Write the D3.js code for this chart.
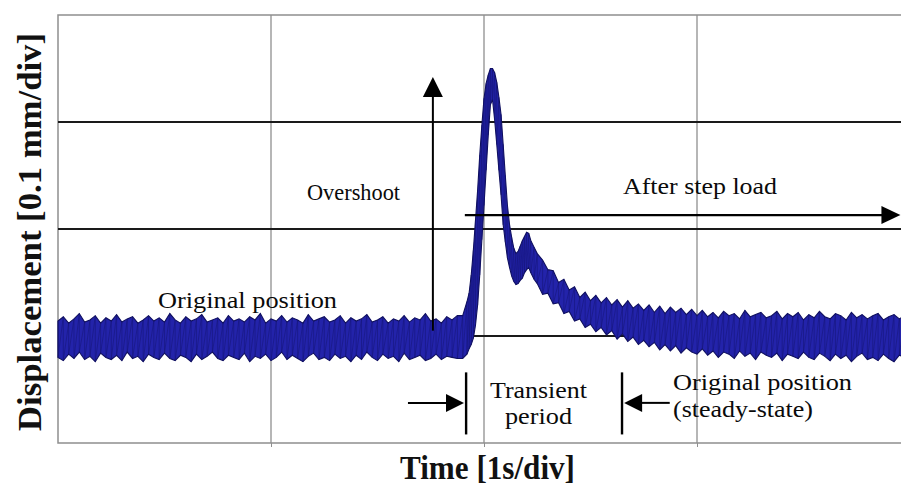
<!DOCTYPE html>
<html>
<head>
<meta charset="utf-8">
<script src="https://cdn.jsdelivr.net/npm/d3@7"></script>
<style>
  body { margin: 0; background: #fff; }
  svg { display: block; }
</style>
</head>
<body>
<svg id="chart" width="901" height="492"></svg>
<script>
// time in divisions (1 s/div), displacement in divisions (0.1 mm/div)
// the trace is kept as an envelope: upper and lower edge of the noisy band

// before the step load
const baseT = [0, 0.025, 0.05, 0.075, 0.1, 0.125, 0.15, 0.175, 0.2, 0.225, 0.25, 0.275, 0.3, 0.325, 0.35, 0.375, 0.4, 0.425, 0.45, 0.475,
  0.5, 0.525, 0.55, 0.575, 0.6, 0.625, 0.65, 0.675, 0.7, 0.725, 0.75, 0.775, 0.8, 0.825, 0.85, 0.875, 0.9, 0.925, 0.95, 0.975,
  1, 1.025, 1.05, 1.075, 1.1, 1.125, 1.15, 1.175, 1.2, 1.225, 1.25, 1.275, 1.3, 1.325, 1.35, 1.375, 1.4, 1.425, 1.45, 1.475,
  1.5, 1.525, 1.55, 1.575, 1.6, 1.625, 1.65, 1.675, 1.7, 1.725, 1.75, 1.775, 1.8, 1.825, 1.85, 1.875];
const baseHi = [1.14, 1.18, 1.12, 1.16, 1.21, 1.13, 1.15, 1.19, 1.12, 1.17, 1.14, 1.20, 1.13, 1.16, 1.18, 1.12, 1.15, 1.19, 1.14, 1.17,
  1.13, 1.21, 1.15, 1.12, 1.18, 1.14, 1.16, 1.20, 1.13, 1.15, 1.17, 1.12, 1.19, 1.14, 1.16, 1.13, 1.18, 1.15, 1.21, 1.12,
  1.16, 1.14, 1.19, 1.13, 1.17, 1.15, 1.12, 1.20, 1.14, 1.16, 1.18, 1.13, 1.15, 1.19, 1.12, 1.17, 1.14, 1.16, 1.20, 1.13,
  1.15, 1.18, 1.12, 1.16, 1.14, 1.19, 1.13, 1.17, 1.15, 1.21, 1.14, 1.16, 1.12, 1.18, 1.15, 1.19];
const baseLo = [0.80, 0.77, 0.83, 0.79, 0.85, 0.78, 0.81, 0.76, 0.84, 0.80, 0.78, 0.82, 0.77, 0.85, 0.79, 0.81, 0.76, 0.83, 0.80, 0.78,
  0.84, 0.79, 0.77, 0.82, 0.80, 0.76, 0.83, 0.78, 0.81, 0.85, 0.79, 0.77, 0.82, 0.80, 0.78, 0.84, 0.76, 0.81, 0.79, 0.83,
  0.77, 0.80, 0.85, 0.78, 0.82, 0.79, 0.76, 0.81, 0.84, 0.78, 0.80, 0.77, 0.83, 0.79, 0.81, 0.76, 0.82, 0.78, 0.85, 0.80,
  0.77, 0.83, 0.79, 0.81, 0.76, 0.84, 0.78, 0.80, 0.82, 0.77, 0.79, 0.83, 0.78, 0.81, 0.80, 0.79];

// overshoot and second bump
const stepT = [1.90, 1.92, 1.93, 1.94, 1.95, 1.96, 1.97, 1.98, 1.99, 2.00, 2.01, 2.02, 2.03, 2.04, 2.05, 2.06, 2.07,
  2.08, 2.09, 2.10, 2.11, 2.12, 2.13, 2.14, 2.15, 2.16, 2.17, 2.18, 2.19, 2.20, 2.21, 2.22, 2.235, 2.25];
const stepHi = [1.19, 1.32, 1.40, 1.57, 1.80, 2.08, 2.36, 2.69, 2.97, 3.22, 3.36, 3.44, 3.50, 3.50, 3.46, 3.37, 3.23,
  3.07, 2.79, 2.50, 2.22, 2.04, 1.92, 1.82, 1.77, 1.79, 1.84, 1.89, 1.93, 1.97, 1.96, 1.89, 1.83, 1.77];
const stepLo = [0.79, 0.83, 0.88, 0.92, 0.98, 1.10, 1.29, 1.57, 1.90, 2.22, 2.55, 2.88, 3.16, 3.21, 3.02, 2.79, 2.55,
  2.32, 2.04, 1.88, 1.73, 1.64, 1.56, 1.51, 1.48, 1.49, 1.52, 1.54, 1.59, 1.62, 1.64, 1.59, 1.53, 1.49];

// decay back to steady state
const tailT = [2.275, 2.3, 2.325, 2.35, 2.375, 2.4, 2.425, 2.45, 2.475, 2.5, 2.525, 2.55, 2.575, 2.6, 2.625, 2.65, 2.675, 2.7, 2.725, 2.75,
  2.775, 2.8, 2.825, 2.85, 2.875, 2.9, 2.925, 2.95, 2.975, 3, 3.025, 3.05, 3.075, 3.1, 3.125, 3.15, 3.175, 3.2, 3.225, 3.25,
  3.275, 3.3, 3.325, 3.35, 3.375, 3.4, 3.425, 3.45, 3.475, 3.5, 3.525, 3.55, 3.575, 3.6, 3.625, 3.65, 3.675, 3.7, 3.725, 3.75,
  3.775, 3.8, 3.825, 3.85, 3.875, 3.9, 3.925, 3.95, 3.975];
const tailHi = [1.71, 1.62, 1.61, 1.50, 1.53, 1.43, 1.46, 1.36, 1.41, 1.33, 1.38, 1.31, 1.36, 1.29, 1.34, 1.27, 1.33, 1.26, 1.30, 1.24,
  1.29, 1.22, 1.28, 1.21, 1.27, 1.22, 1.26, 1.20, 1.25, 1.19, 1.24, 1.18, 1.22, 1.17, 1.23, 1.19, 1.21, 1.16, 1.24, 1.18,
  1.20, 1.22, 1.17, 1.19, 1.23, 1.16, 1.21, 1.18, 1.22, 1.15, 1.20, 1.17, 1.23, 1.18, 1.16, 1.21, 1.19, 1.15, 1.22, 1.17,
  1.20, 1.16, 1.19, 1.21, 1.15, 1.18, 1.20, 1.16, 1.19];
const tailLo = [1.39, 1.40, 1.30, 1.31, 1.21, 1.23, 1.14, 1.16, 1.08, 1.11, 1.04, 1.08, 1.01, 1.05, 0.97, 1.02, 0.95, 0.99, 0.92, 0.96,
  0.90, 0.94, 0.87, 0.92, 0.86, 0.91, 0.84, 0.89, 0.85, 0.83, 0.88, 0.82, 0.86, 0.80, 0.85, 0.83, 0.79, 0.86, 0.81, 0.84,
  0.78, 0.85, 0.82, 0.80, 0.84, 0.77, 0.83, 0.81, 0.79, 0.85, 0.80, 0.78, 0.84, 0.81, 0.77, 0.83, 0.79, 0.82, 0.76, 0.81,
  0.84, 0.78, 0.80, 0.77, 0.83, 0.79, 0.76, 0.82, 0.80];

const gridT = [1, 2, 3];
const gridV = [1, 2, 3];

const svg = d3.select('#chart');
const x = d3.scaleLinear().domain([0, 4]).range([58, 910]);
const y = d3.scaleLinear().domain([0, 4]).range([443, 15]);

const toRows = (ts, hi, lo) => ts.map((t, i) => ({ t, hi: hi[i], lo: lo[i] }));
const trace = [
  ...toRows(baseT, baseHi, baseLo),
  ...toRows(stepT, stepHi, stepLo),
  ...toRows(tailT, tailHi, tailLo),
];

// frame and grid
const grid = svg.append('g');
grid.selectAll('.vgrid')
  .data(gridT)
  .join('line')
  .attr('x1', (d) => x(d)).attr('x2', (d) => x(d))
  .attr('y1', y(4)).attr('y2', y(0))
  .attr('stroke', '#8f8f8f').attr('stroke-width', 1.3);

grid.append('path')
  .attr('d', `M${x(4) + 5},${y(4)}H${x(0)}V${y(0)}H${x(4) + 5}`)
  .attr('fill', 'none')
  .attr('stroke', '#8f8f8f')
  .attr('stroke-width', 1.5);

grid.selectAll('.hgrid')
  .data(gridV)
  .join('line')
  .attr('x1', x(0)).attr('x2', x(4) + 5)
  .attr('y1', (d) => y(d)).attr('y2', (d) => y(d))
  .attr('stroke', '#1a1a1a').attr('stroke-width', 1.8);

// small tick marks under the bottom edge
svg.append('g')
  .attr('transform', `translate(0,${y(0)})`)
  .call(d3.axisBottom(x).tickValues(gridT).tickSize(4).tickFormat(''))
  .call((g) => g.select('.domain').remove())
  .call((g) => g.selectAll('.tick line').attr('stroke', '#8f8f8f'));

// displacement trace: filled band, then the zigzag of the samples over it
const area = d3.area()
  .x((d) => x(d.t))
  .y0((d) => y(d.lo))
  .y1((d) => y(d.hi));

svg.append('path')
  .datum(trace)
  .attr('d', area)
  .attr('fill', '#2323aa')
  .attr('stroke', '#10105e')
  .attr('stroke-width', 1.1);

const zigzag = trace.flatMap((d) => [[d.t, d.hi], [d.t, d.lo]]);
svg.append('path')
  .datum(zigzag)
  .attr('d', d3.line().x((d) => x(d[0])).y((d) => y(d[1])))
  .attr('fill', 'none')
  .attr('stroke', '#141470')
  .attr('stroke-opacity', 0.6)
  .attr('stroke-width', 0.8);

// annotations
const ink = '#000';
const ann = svg.append('g').attr('stroke', ink).attr('fill', ink);

const arrowHead = (tipX, tipY, dir, len, half) => {
  // dir: 'up', 'right', 'left'
  if (dir === 'up') return `M${tipX},${tipY}L${tipX - half},${tipY + len}L${tipX + half},${tipY + len}Z`;
  if (dir === 'right') return `M${tipX},${tipY}L${tipX - len},${tipY - half}L${tipX - len},${tipY + half}Z`;
  return `M${tipX},${tipY}L${tipX + len},${tipY - half}L${tipX + len},${tipY + half}Z`;
};

// overshoot arrow
ann.append('line')
  .attr('x1', x(1.76)).attr('x2', x(1.76))
  .attr('y1', y(1.05)).attr('y2', y(3.3))
  .attr('stroke-width', 2);
ann.append('path').attr('d', arrowHead(x(1.76), y(3.42), 'up', 20, 10)).attr('stroke', 'none');

// after step load arrow
ann.append('line')
  .attr('x1', x(1.91)).attr('x2', x(3.88))
  .attr('y1', y(2.13)).attr('y2', y(2.13))
  .attr('stroke-width', 2.2);
ann.append('path').attr('d', arrowHead(x(3.955), y(2.13), 'right', 19, 9)).attr('stroke', 'none');

// transient period markers
[1.916, 2.648].forEach((t) => {
  ann.append('line')
    .attr('x1', x(t)).attr('x2', x(t))
    .attr('y1', y(0.66)).attr('y2', y(0.08))
    .attr('stroke-width', 2.4);
});
ann.append('line')
  .attr('x1', x(1.643)).attr('x2', x(1.84))
  .attr('y1', y(0.375)).attr('y2', y(0.375))
  .attr('stroke-width', 2);
ann.append('path').attr('d', arrowHead(x(1.906), y(0.375), 'right', 18, 9)).attr('stroke', 'none');
ann.append('line')
  .attr('x1', x(2.872)).attr('x2', x(2.73))
  .attr('y1', y(0.375)).attr('y2', y(0.375))
  .attr('stroke-width', 2);
ann.append('path').attr('d', arrowHead(x(2.658), y(0.375), 'left', 18, 9)).attr('stroke', 'none');

// annotation texts
const notes = [
  { text: 'Overshoot', x: 307, y: 200, w: 93 },
  { text: 'After step load', x: 623, y: 194, w: 154 },
  { text: 'Original position', x: 158, y: 308, w: 179 },
  { text: 'Transient', x: 490, y: 398, w: 97 },
  { text: 'period', x: 505, y: 424, w: 67 },
  { text: 'Original position', x: 673, y: 390, w: 179 },
  { text: '(steady-state)', x: 673, y: 417, w: 140 },
];

svg.append('g')
  .selectAll('text')
  .data(notes)
  .join('text')
  .attr('x', (d) => d.x)
  .attr('y', (d) => d.y)
  .attr('textLength', (d) => d.w)
  .attr('lengthAdjust', 'spacingAndGlyphs')
  .style('font-family', '"Liberation Serif", "DejaVu Serif", serif')
  .style('font-size', '24px')
  .style('fill', '#0a0a0a')
  .text((d) => d.text);

// axis titles
svg.append('text')
  .attr('x', 400)
  .attr('y', 479)
  .attr('textLength', 175)
  .attr('lengthAdjust', 'spacingAndGlyphs')
  .style('font-family', '"Liberation Serif", serif')
  .style('font-weight', 'bold')
  .style('font-size', '34px')
  .style('fill', '#111')
  .text('Time [1s/div]');

svg.append('text')
  .attr('transform', 'translate(41,431) rotate(-90)')
  .attr('textLength', 398)
  .attr('lengthAdjust', 'spacingAndGlyphs')
  .style('font-family', '"Liberation Serif", serif')
  .style('font-weight', 'bold')
  .style('font-size', '34px')
  .style('fill', '#111')
  .text('Displacement [0.1 mm/div]');
</script>
</body>
</html>
